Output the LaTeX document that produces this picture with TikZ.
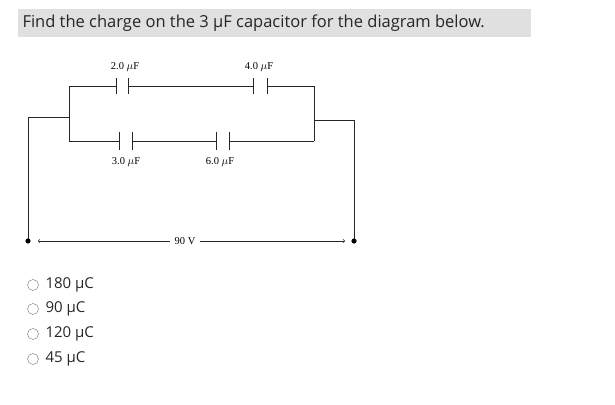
\documentclass[tikz,border=0pt]{standalone}
\usepackage{fontspec}
\setmainfont{Open Sans}
\newfontfamily\serifc{Liberation Serif}
\begin{document}
\begin{tikzpicture}[x=1pt,y=-1pt,
  wire/.style={line width=0.8pt,black!85},
  plate/.style={line width=0.8pt,black!85},
  lbl/.style={font=\serifc\fontsize{10.5}{12}\selectfont},
  opt/.style={font=\fontsize{15}{18}\selectfont,anchor=west,text=black!85},
  radio/.style={draw=black!55,circle,minimum size=11pt,inner sep=0pt}]
\useasboundingbox (0,0) rectangle (615,404);
\fill[black!12] (18,9) rectangle (531,37);
\node[anchor=west,font=\fontsize{16.5}{20}\selectfont,text=black!85] (title) at (19,23) {Find the charge on the 3 μF capacitor for the diagram below.};
% top branch
\draw[wire] (69,117) -- (69,86) -- (116,86);
\draw[plate] (116,78) -- (116,94); \draw[plate] (128,78) -- (128,94);
\draw[wire] (128,86) -- (253,86);
\draw[plate] (253,78) -- (253,94); \draw[plate] (267,78) -- (267,94);
\draw[wire] (267,86) -- (314,86) -- (314,141);
% bottom branch
\draw[wire] (69,117) -- (69,141) -- (119,141);
\draw[plate] (119,132) -- (119,150); \draw[plate] (132,132) -- (132,150);
\draw[wire] (132,141) -- (216,141);
\draw[plate] (216,132) -- (216,150); \draw[plate] (229,132) -- (229,150);
\draw[wire] (229,141) -- (314,141);
% leads
\draw[wire] (69,117) -- (28,117) -- (28,241);
\draw[wire] (314,120) -- (354,120) -- (354,241);
\fill (28,241) circle (2.6pt);
\fill (354,241) circle (2.6pt);
\node[lbl] (c2) at (125,67) {2.0 $\mu$F};
\node[lbl] (c4) at (259,67) {4.0 $\mu$F};
\node[lbl] (c3) at (126,162) {3.0 $\mu$F};
\node[lbl] (c6) at (220,162) {6.0 $\mu$F};
\node[lbl,inner sep=4pt] (v) at (185,241) {90 V};
\coordinate (al) at (38,241); \coordinate (ar) at (345,241);
\draw[wire,line width=0.6pt,->] (v.west) -- (al);
\draw[wire,line width=0.6pt,->] (v.east) -- (ar);
% options
\foreach \y/\t [count=\i] in {285/180 μC,309/90 μC,334/120 μC,359/45 μC}{
  \node[radio] (r\i) at (33,\y) {};
  \node[opt] (o\i) at (42,\y) {\t};
}
\end{tikzpicture}
\end{document}
